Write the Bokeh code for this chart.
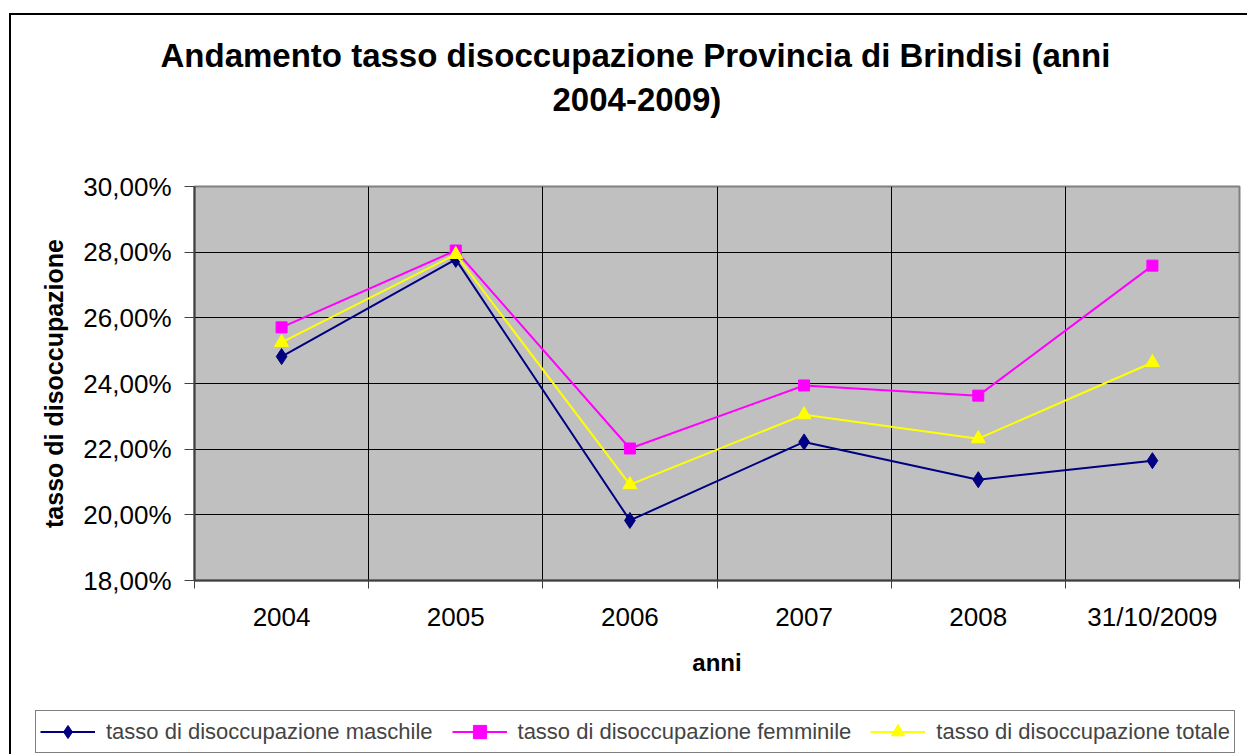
import numpy as np
from bokeh.plotting import figure
from bokeh.models import Range1d, FixedTicker, Title, Legend, LegendItem
from bokeh.embed import file_html
from bokeh.resources import INLINE

# ---- data ----
categories = ["2004", "2005", "2006", "2007", "2008", "31/10/2009"]
maschile = [24.82, 27.78, 19.83, 22.22, 21.07, 21.65]
femminile = [25.71, 28.05, 22.02, 23.94, 23.63, 27.59]
totale = [25.25, 27.93, 20.92, 23.05, 22.32, 24.64]
y_ticks = [18, 20, 22, 24, 26, 28, 30]

title_lines = ["Andamento tasso disoccupazione Provincia di Brindisi (anni", "2004-2009)"]
series_names = ["tasso di disoccupazione maschile",
                "tasso di disoccupazione femminile",
                "tasso di disoccupazione totale"]

FONT = "Liberation Sans"

xs = list(np.arange(len(categories)) + 0.5)
bounds = list(range(len(categories) + 1))

p = figure(width=1236, height=675, output_backend="svg", toolbar_location=None,
           title=None,
           x_range=Range1d(0, len(categories)), y_range=Range1d(y_ticks[0], y_ticks[-1]),
           min_border_left=183, min_border_right=8, min_border_top=171, min_border_bottom=110)
p.margin = (15, 0, 0, 11)
p.styles = {"box-shadow": "-2px 0 0 0 black, 0 -2px 0 0 black, -2px -2px 0 0 black"}

p.background_fill_color = "#C0C0C0"
p.border_fill_color = "white"
p.outline_line_color = "#808080"
p.outline_line_width = 2

# grids
p.ygrid.ticker = FixedTicker(ticks=y_ticks)
p.ygrid.grid_line_color = "black"
p.ygrid.grid_line_width = 1
p.xgrid.ticker = FixedTicker(ticks=bounds[1:-1])
p.xgrid.grid_line_color = "black"
p.xgrid.grid_line_width = 1

# y axis
ya = p.yaxis[0]
ya.ticker = FixedTicker(ticks=y_ticks)
ya.major_label_overrides = {v: f"{v:.2f}%".replace(".", ",") for v in y_ticks}
ya.major_label_text_font = FONT
ya.major_label_text_font_size = "26px"
ya.major_label_text_color = "black"
ya.major_tick_out = 10
ya.major_tick_in = 0
ya.minor_tick_out = 0
ya.minor_tick_in = 0
ya.major_label_standoff = 13
ya.axis_line_color = "#404040"
ya.axis_line_width = 2
ya.major_tick_line_color = "#404040"
ya.axis_label = "tasso di disoccupazione"
ya.axis_label_text_font = FONT
ya.axis_label_text_font_style = "bold"
ya.axis_label_text_font_size = "25px"
ya.axis_label_text_color = "black"
ya.axis_label_standoff = 12

# x axis
xa = p.xaxis[0]
xa.ticker = FixedTicker(ticks=xs, minor_ticks=bounds)
xa.major_label_overrides = {x: c for x, c in zip(xs, categories)}
xa.major_label_text_font = FONT
xa.major_label_text_font_size = "26px"
xa.major_label_text_color = "black"
xa.major_tick_out = 0
xa.major_tick_in = 0
xa.minor_tick_out = 8
xa.minor_tick_in = 0
xa.minor_tick_line_color = "#404040"
xa.minor_tick_line_width = 1
xa.major_label_standoff = 13
xa.axis_line_color = "#404040"
xa.axis_line_width = 2
xa.axis_label = "anni"
xa.axis_label_text_font = FONT
xa.axis_label_text_font_style = "bold"
xa.axis_label_text_font_size = "24px"
xa.axis_label_text_color = "black"
xa.axis_label_standoff = 14

# series
specs = [
    (maschile, "#000080", "diamond", 16),
    (femminile, "#FF00FF", "square", 11),
    (totale, "#FFFF00", "triangle", 14),
]
for (vals, col, mk, sz) in specs:
    p.line(xs, vals, line_color=col, line_width=2)
    p.scatter(xs, vals, marker=mk, size=sz, fill_color=col, line_color=col)

# title: spacer panel nearest the plot, then the two title lines
p.add_layout(Title(text=" ", text_font_size="1px", standoff=64), "above")
p.add_layout(Title(text=title_lines[1], align="left", offset=358, standoff=4,
                   text_font=FONT, text_font_style="bold", text_font_size="33px",
                   text_color="black"), "above")
p.add_layout(Title(text=title_lines[0], align="left", offset=-34, standoff=5,
                   text_font=FONT, text_font_style="bold", text_font_size="33px",
                   text_color="black"), "above")

# legend strip: a separate root figure directly below, same chart box
lg = figure(width=1236, height=64, output_backend="svg", toolbar_location=None,
            title=None, x_axis_type=None, y_axis_type=None,
            x_range=Range1d(0, 1), y_range=Range1d(0, 1),
            min_border=0, min_border_left=0, min_border_right=0,
            min_border_top=0, min_border_bottom=0)
lg.margin = (0, 0, 0, 11)
lg.styles = {"box-shadow": "-2px 0 0 0 black"}
lg.outline_line_color = None
lg.background_fill_color = "white"
lg.border_fill_color = "white"
lg.xgrid.visible = False
lg.ygrid.visible = False

items = []
for (vals, col, mk, sz), name in zip(specs, series_names):
    # same series drawn in the strip (outside its visible range) as legend sources
    l = lg.line(xs, vals, line_color=col, line_width=2)
    s = lg.scatter(xs, vals, marker=mk, size=sz, fill_color=col, line_color=col)
    items.append(LegendItem(label=name, renderers=[l, s]))

legend = Legend(items=items, orientation="horizontal", location=(24, 1),
                border_line_color="black", border_line_width=1,
                background_fill_color="white", background_fill_alpha=1,
                padding=4, spacing=19, glyph_width=55, glyph_height=33,
                label_standoff=11, label_text_font=FONT, label_text_font_size="22px",
                margin=0)
lg.add_layout(legend, "center")

open("out.html", "w").write(file_html([p, lg], INLINE))
